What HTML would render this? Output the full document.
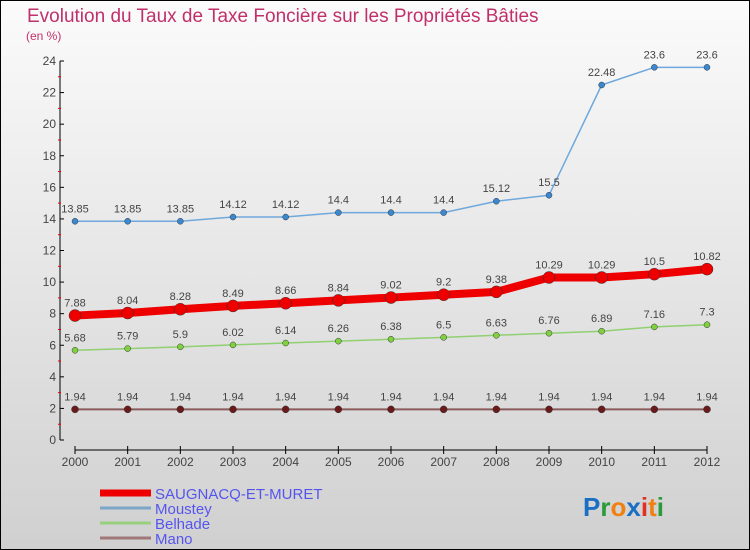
<!DOCTYPE html>
<html><head><meta charset="utf-8"><style>
html,body{margin:0;padding:0}
body{width:750px;height:550px;overflow:hidden;font-family:"Liberation Sans",sans-serif}
#wrap{position:absolute;left:0;top:0;width:748px;height:548px;border:1px solid #000;background:linear-gradient(#fbfbfb,#d0d0d0)}
</style></head><body>
<div id="wrap">
<svg id="c" width="750" height="550" style="position:absolute;left:-1px;top:-1px">
<text x="27" y="22" font-size="19" fill="#c0306a">Evolution du Taux de Taxe Foncière sur les Propriétés Bâties</text>
<text x="26" y="40" font-size="12" fill="#c0306a">(en %)</text>
<g id="axes"></g><g id="series"></g><g id="legend"></g>
<text x="583" y="516" font-size="26" font-weight="bold"><tspan fill="#1a6fc4">P</tspan><tspan fill="#2a9a3a">r</tspan><tspan fill="#f08010">o</tspan><tspan fill="#1a6fc4">x</tspan><tspan fill="#e03020">i</tspan><tspan fill="#f08010">t</tspan><tspan fill="#2a9a3a">i</tspan></text>
</svg></div>
<script>
const years=[2000,2001,2002,2003,2004,2005,2006,2007,2008,2009,2010,2011,2012];
const yTicks=[0,2,4,6,8,10,12,14,16,18,20,22,24];
const saugnacq=[7.88,8.04,8.28,8.49,8.66,8.84,9.02,9.2,9.38,10.29,10.29,10.5,10.82];
const moustey=[13.85,13.85,13.85,14.12,14.12,14.4,14.4,14.4,15.12,15.5,22.48,23.6,23.6];
const belhade=[5.68,5.79,5.9,6.02,6.14,6.26,6.38,6.5,6.63,6.76,6.89,7.16,7.3];
const mano=[1.94,1.94,1.94,1.94,1.94,1.94,1.94,1.94,1.94,1.94,1.94,1.94,1.94];
const names=["SAUGNACQ-ET-MURET","Moustey","Belhade","Mano"];
const NS="http://www.w3.org/2000/svg";
const xs=i=>75+i*(707-75)/(years.length-1);
const ys=v=>440-v*(440-61)/24;
function mk(p,t,a){const e=document.createElementNS(NS,t);for(const k in a)e.setAttribute(k,a[k]);p.appendChild(e);return e;}
const ax=document.getElementById('axes');
let l=mk(ax,'line',{x1:60,y1:61,x2:60,y2:440,stroke:'#000'});


yTicks.forEach(v=>{
 mk(ax,'line',{x1:60,y1:ys(v),x2:64,y2:ys(v),stroke:'#000'});
 if(v<24)mk(ax,'line',{x1:58,y1:ys(v+1),x2:61,y2:ys(v+1),stroke:'#e00'});
 const t=mk(ax,'text',{x:56,y:ys(v)+4,'font-size':12,fill:'#444','text-anchor':'end'});t.textContent=v;
 
 
});
l=mk(ax,'line',{x1:75,y1:450,x2:707,y2:450,stroke:'#000'});


years.forEach((y,i)=>{
 mk(ax,'line',{x1:xs(i),y1:446,x2:xs(i),y2:454,stroke:'#000'});
 const t=mk(ax,'text',{x:xs(i),y:466,'font-size':12,fill:'#444','text-anchor':'middle'});t.textContent=y;
 
 
});
const sg=document.getElementById('series');
function draw(vals,color,w,r,pc,name,fs){
 const g=mk(sg,'g',{});
 
 
 const pl=mk(g,'polyline',{points:vals.map((v,i)=>xs(i)+','+ys(v)).join(' '),fill:'none',stroke:color,'stroke-width':w,'stroke-linejoin':'round'});
 
 
 vals.forEach((v,i)=>{
  const c=mk(g,'circle',{cx:xs(i),cy:ys(v),r:r,fill:pc,stroke:'#333','stroke-width':0.5});
  
  
  const t=mk(g,'text',{x:xs(i),y:ys(v)-9,'font-size':fs,fill:'#444','text-anchor':'middle'});t.textContent=v;
  
  
 });
}
draw(mano,'#8b5a5a',2,3.5,'#6a1a1a','mano',11);
draw(belhade,'#90d070',1.5,3,'#80d040','belhade',11);
draw(moustey,'#6fa8dc',1.5,3,'#3a88d0','moustey',11);
draw(saugnacq,'#ee0000',8,6,'#ee0000','saugnacq',11);
const lg=document.getElementById('legend');
const lc=['#ee0000','#7ba6c8','#98d080','#a07878'],lw=[7,3,3,3];
names.forEach((n,i)=>{
 const y=493+i*15;
 const ln=mk(lg,'line',{x1:100,y1:y,x2:151,y2:y,stroke:lc[i],'stroke-width':lw[i]});
 
 
 const t=mk(lg,'text',{x:155,y:y+6,'font-size':15,fill:'#5555ee'});t.textContent=n;
 
 
});
</script>
</body></html>
